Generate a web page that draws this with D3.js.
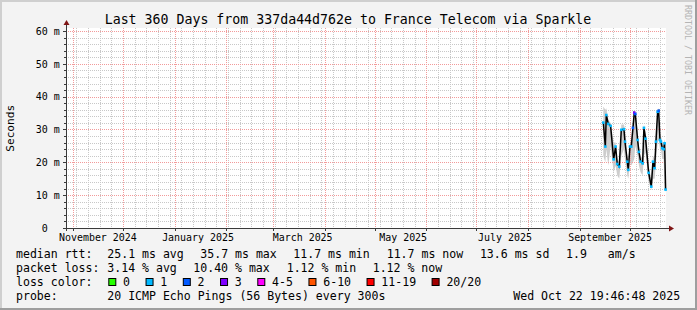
<!DOCTYPE html>
<html><head><meta charset="utf-8">
<script src="https://cdn.jsdelivr.net/npm/d3@7"></script>
<style>
html,body{margin:0;padding:0;background:#f3f3f3;}
svg{display:block;}
text{font-family:"DejaVu Sans Mono",monospace;white-space:pre;}
</style></head><body>
<svg id="c" width="697" height="310"></svg>
<script>
// ---------- data ----------
const title = "Last 360 Days from 337da44d762e to France Telecom via Sparkle";
const yAxisTitle = "Seconds";
const endTime = "2025-10-22T19:46:48Z";
const spanDays = 360;
const yMax = 60.9;
const yTickValues = [0, 10, 20, 30, 40, 50, 60];
const yTickLabels = [" 0", "10 m", "20 m", "30 m", "40 m", "50 m", "60 m"];
const xLabelDates = ["2024-11-15T23:00Z", "2025-01-15T01:00Z", "2025-03-18T20:00Z", "2025-05-18T03:00Z", "2025-07-18T06:00Z", "2025-09-19T06:00Z"];
const xLabelTexts = ["November 2024", "January 2025", "March 2025", "May 2025", "July 2025", "September 2025"];

const sampleTimes = ["2025-09-15T05:00","2025-09-16T10:00","2025-09-17T00:00","2025-09-18T05:00","2025-09-19T14:00","2025-09-21T10:00","2025-09-22T14:00","2025-09-23T14:00","2025-09-24T19:00","2025-09-26T00:00","2025-09-27T14:00","2025-09-28T05:00","2025-09-29T14:00","2025-09-30T05:00","2025-10-01T05:00","2025-10-02T00:00","2025-10-03T00:00","2025-10-03T19:00","2025-10-04T10:00","2025-10-05T19:00","2025-10-06T14:00","2025-10-07T14:00","2025-10-08T19:00","2025-10-09T14:00","2025-10-10T14:00","2025-10-12T10:00","2025-10-14T00:00","2025-10-15T00:00","2025-10-16T00:00","2025-10-16T19:00","2025-10-17T19:00","2025-10-18T10:00","2025-10-19T05:00","2025-10-19T19:00","2025-10-20T14:00","2025-10-21T10:00","2025-10-22T00:00","2025-10-22T14:00"];
const medianRtt = [32.1,24.8,34.4,31.7,31.1,20.9,24.8,19.5,18.7,29.9,30.1,26.3,20.2,17.7,24.8,24.8,30.5,35.1,34.7,26.8,23.2,20.2,19.7,30.5,27.2,16.8,12.6,20.2,18.2,26.3,35.4,35.7,26.8,26.3,24.3,24.0,25.8,11.7];
const lossCount = [1,1,1,1,1,1,1,1,1,1,1,1,1,1,1,1,2,3,2,1,1,1,1,1,1,1,1,1,1,1,1,2,1,1,1,1,1,1];
const smokeLow  = [22,20,24,19,25,17,19,16,15,22,24,21,16,15,20,19,20,21,25,22,19,17,16,22,23,14,11.5,15,15,20,26,27,24,24,21,21,12,11];
const smokeHigh = [37,36,36.5,33,32,26,26,21,20,31.5,31.5,30,22,20,26,27,32,36,35.5,29,25,22,21,31.5,29,19,15,22,21,28,36,36.5,29,28,26,26,27,13];

const lossBins = ["0", "1", "2", "3", "4-5", "6-10", "11-19", "20/20"];
const lossBinMax = [0, 1, 2, 3, 5, 10, 19, 20];
const lossColors = ["#26ff00", "#00b8ff", "#0059ff", "#7e00ff", "#ff00ff", "#ff5500", "#ff0000", "#a10000"];

const medianLabel = "median rtt:";
const medianStats = ["25.1 ms avg", "35.7 ms max", "11.7 ms min", "11.7 ms now", "13.6 ms sd", "1.9   am/s"];
const lossLabel = "packet loss:";
const lossStats = ["3.14 % avg", "10.40 % max", "1.12 % min", "1.12 % now"];
const colorLabel = "loss color:";
const probeLabel = "probe:";
const probeText = "20 ICMP Echo Pings (56 Bytes) every 300s";
const stampText = "Wed Oct 22 19:46:48 2025";
const watermark = "RRDTOOL / TOBI OETIKER";

// ---------- layout ----------
const W = 697, H = 310, L = 66, R = 666, T = 28, B = 228;
const svg = d3.select("#c");
const end = new Date(endTime);
const start = new Date(end.getTime() - spanDays * 864e5);
const x = d3.scaleUtc().domain([start, end]).range([L, R]);
const y = d3.scaleLinear().domain([0, yMax]).range([B, T]);
const px = v => Math.round(v) + 0.5;

svg.append("rect").attr("width", W).attr("height", H).attr("fill", "#f3f3f3");
// 3D frame
svg.append("rect").attr("x", 0).attr("y", 0).attr("width", W).attr("height", 2).attr("fill", "#cfcfcf");
svg.append("rect").attr("x", 0).attr("y", 0).attr("width", 2).attr("height", H).attr("fill", "#cfcfcf");
svg.append("rect").attr("x", 0).attr("y", H - 2).attr("width", W).attr("height", 2).attr("fill", "#9e9e9e");
svg.append("rect").attr("x", W - 2).attr("y", 0).attr("width", 2).attr("height", H).attr("fill", "#9e9e9e");

// canvas
svg.append("rect").attr("x", L).attr("y", T).attr("width", R - L).attr("height", B - T).attr("fill", "#ffffff");

// data
const data = sampleTimes.map((t, i) => ({
  t: new Date(t + "Z"), v: medianRtt[i], lo: smokeLow[i], hi: smokeHigh[i], loss: lossCount[i]
}));

// smoke
svg.append("path").datum(data)
  .attr("d", d3.area().x(d => x(d.t)).y0(d => y(d.lo)).y1(d => y(d.hi)))
  .attr("fill", "#cdcdcd");

// grid
const g = svg.append("g");
const minorY = d3.range(2, 61, 2).filter(v => v % 10 !== 0);
g.selectAll(".hy").data(minorY).join("line")
  .attr("x1", L).attr("x2", R).attr("y1", d => px(y(d))).attr("y2", d => px(y(d)))
  .attr("stroke", "#c8c8c8").attr("stroke-dasharray", "1,1");
const weeks = d3.utcSunday.range(start, end);
g.selectAll(".vx").data(weeks).join("line")
  .attr("y1", T).attr("y2", B).attr("x1", d => px(x(d))).attr("x2", d => px(x(d)))
  .attr("stroke", "#c8c8c8").attr("stroke-dasharray", "1,1");
const majorY = yTickValues.filter(v => v > 0);
g.selectAll(".my").data(majorY).join("line")
  .attr("x1", L).attr("x2", R).attr("y1", d => px(y(d))).attr("y2", d => px(y(d)))
  .attr("stroke", "#f29a9a").attr("stroke-dasharray", "1,1");
const months = d3.utcMonth.range(start, end);
g.selectAll(".mx").data(months).join("line")
  .attr("y1", T).attr("y2", B).attr("x1", d => px(x(d))).attr("x2", d => px(x(d)))
  .attr("stroke", "#f29a9a").attr("stroke-dasharray", "1,1");

// median line
svg.append("path").datum(data)
  .attr("d", d3.line().x(d => x(d.t)).y(d => y(d.v)))
  .attr("fill", "none").attr("stroke", "#000").attr("stroke-width", 1.5);
const lossIdx = c => lossBinMax.findIndex(m => c <= m);
svg.selectAll(".pt").data(data).join("rect")
  .attr("x", d => x(d.t) - 1.3).attr("y", d => y(d.v) - 1.3)
  .attr("width", 2.6).attr("height", 2.6)
  .attr("fill", d => lossColors[lossIdx(d.loss)]);

// axes
const axisColor = "#3a3a3a", arrowColor = "#7f1515";
svg.append("line").attr("x1", L - 3).attr("x2", R + 3).attr("y1", B + 0.5).attr("y2", B + 0.5).attr("stroke", axisColor);
svg.append("line").attr("x1", L + 0.5).attr("x2", L + 0.5).attr("y1", B + 3).attr("y2", T - 3).attr("stroke", axisColor);
svg.append("path").attr("d", `M${R + 8},${B + 0.5}L${R + 3},${B - 2.5}L${R + 3},${B + 3.5}Z`).attr("fill", arrowColor);
svg.append("path").attr("d", `M${L + 0.5},${T - 8}L${L - 2.5},${T - 3}L${L + 3.5},${T - 3}Z`).attr("fill", arrowColor);
// ticks
svg.selectAll(".tkx").data(months).join("line")
  .attr("x1", d => px(x(d))).attr("x2", d => px(x(d))).attr("y1", B).attr("y2", B + 3)
  .attr("stroke", axisColor);
svg.selectAll(".tky").data(majorY).join("line")
  .attr("x1", L - 3).attr("x2", L).attr("y1", d => px(y(d))).attr("y2", d => px(y(d)))
  .attr("stroke", axisColor);
svg.selectAll(".tkym").data(minorY).join("line")
  .attr("x1", L - 2).attr("x2", L).attr("y1", d => px(y(d))).attr("y2", d => px(y(d)))
  .attr("stroke", axisColor);

// y labels
svg.selectAll(".yl").data(yTickValues).join("text")
  .attr("x", 35.7).attr("y", d => y(d) + 3.8)
  .attr("font-size", "10px").attr("fill", "#000")
  .text((d, i) => yTickLabels[i]);
// x labels
svg.selectAll(".xl").data(xLabelDates).join("text")
  .attr("x", d => x(new Date(d))).attr("y", 241)
  .attr("text-anchor", "middle").attr("font-size", "9.95px").attr("fill", "#000")
  .text((d, i) => xLabelTexts[i]);

// title
svg.append("text").attr("x", 348).attr("y", 24).attr("text-anchor", "middle")
  .attr("font-size", "13.25px").attr("fill", "#000").text(title);
// y title
svg.append("text").attr("transform", "translate(13.5,128.3) rotate(-90)")
  .attr("text-anchor", "middle").attr("font-size", "11.1px").attr("fill", "#000").text(yAxisTitle);
// watermark
svg.append("text").attr("transform", "translate(684.8,5) rotate(90)")
  .attr("font-size", "8.3px").attr("fill", "#b4b4b4").text(watermark);

// legend
const lf = "11.55px";
const cw = 6.95;
const leg = svg.append("g").attr("font-size", lf).attr("fill", "#000");
const rowY = [257.8, 271.8, 285.6, 299.5];
const medX = [107.3, 200.3, 293.3, 386.7, 479.9, 566.1];
const lossX = [107.3, 193.3, 286.7, 372.7];
leg.append("text").attr("x", 16).attr("y", rowY[0]).text(medianLabel);
medianStats.forEach((s, i) => leg.append("text").attr("x", medX[i]).attr("y", rowY[0]).text(s));
leg.append("text").attr("x", 16).attr("y", rowY[1]).text(lossLabel);
lossStats.forEach((s, i) => leg.append("text").attr("x", lossX[i]).attr("y", rowY[1]).text(s));
leg.append("text").attr("x", 16).attr("y", rowY[2]).text(colorLabel);
let bx = 108.3;
lossBins.forEach((lab, i) => {
  leg.append("rect").attr("x", bx + 0.5).attr("y", 278.5).attr("width", 7).attr("height", 7)
    .attr("fill", lossColors[i]).attr("stroke", "#000").attr("stroke-width", 1);
  leg.append("text").attr("x", bx + 14.8).attr("y", rowY[2]).text(lab);
  bx = bx + 14.8 + lab.length * cw + 15.5;
});
leg.append("text").attr("x", 16).attr("y", rowY[3]).text(probeLabel);
leg.append("text").attr("x", 107.3).attr("y", rowY[3]).text(probeText);
leg.append("text").attr("x", 513.3).attr("y", rowY[3]).text(stampText);
</script>
</body></html>
